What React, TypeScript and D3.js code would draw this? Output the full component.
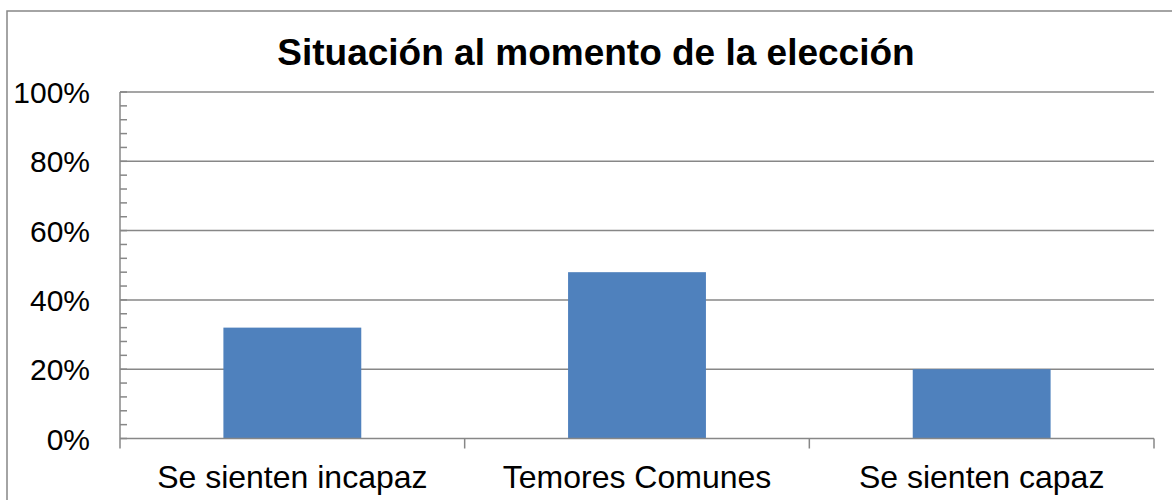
import React, { useRef, useEffect } from "react";
import * as d3 from "d3";

const categories = ["Se sienten incapaz", "Temores Comunes", "Se sienten capaz"];
const values = [0.32, 0.48, 0.2];
const majorTicks = [0, 0.2, 0.4, 0.6, 0.8, 1];
const title = "Situación al momento de la elección";

const App: React.FC = () => {
  const ref = useRef<SVGSVGElement | null>(null);

  useEffect(() => {
    const svg = d3.select(ref.current);
    svg.selectAll("*").remove();

    const width = 1172;
    const height = 500;
    const left = 120;
    const right = 1154;
    const top = 92;
    const bottom = 438.5;
    const font = "'Liberation Sans', Arial, sans-serif";
    const grey = "#878787";

    svg.attr("width", width).attr("height", height);

    // outer chart frame
    svg
      .append("rect")
      .attr("x", 7)
      .attr("y", 11)
      .attr("width", 1300)
      .attr("height", 700)
      .attr("fill", "white")
      .attr("stroke", grey)
      .attr("stroke-width", 1.5);

    svg
      .append("text")
      .attr("x", 596)
      .attr("y", 65)
      .attr("text-anchor", "middle")
      .attr("font-family", font)
      .attr("font-weight", "bold")
      .attr("font-size", 37)
      .text(title);

    const x = d3.scaleBand().domain(categories).range([left, right]).paddingInner(0.6).paddingOuter(0.3);
    const xb = d3.scaleBand().domain(categories).range([left, right]);
    const y = d3.scaleLinear().domain([0, 1]).range([bottom, top]);

    // gridlines
    svg
      .append("g")
      .selectAll("line")
      .data(majorTicks.filter((d) => d > 0))
      .enter()
      .append("line")
      .attr("x1", left)
      .attr("x2", right)
      .attr("y1", (d) => y(d))
      .attr("y2", (d) => y(d))
      .attr("stroke", grey)
      .attr("stroke-width", 1.5);

    // minor ticks
    svg
      .append("g")
      .selectAll("line")
      .data(d3.range(0, 101, 4).map((d) => d / 100))
      .enter()
      .append("line")
      .attr("x1", left)
      .attr("x2", left + 7)
      .attr("y1", (d) => y(d))
      .attr("y2", (d) => y(d))
      .attr("stroke", grey)
      .attr("stroke-width", 1.5);

    // bars
    svg
      .append("g")
      .selectAll("rect")
      .data(values)
      .enter()
      .append("rect")
      .attr("x", (_, i) => x(categories[i]) || 0)
      .attr("y", (d) => y(d))
      .attr("width", x.bandwidth())
      .attr("height", (d) => bottom - y(d))
      .attr("fill", "#4F81BD");

    // y axis line
    svg
      .append("line")
      .attr("x1", left)
      .attr("x2", left)
      .attr("y1", top)
      .attr("y2", bottom + 10)
      .attr("stroke", grey)
      .attr("stroke-width", 1.5);

    // x axis line + category separators
    svg
      .append("line")
      .attr("x1", left)
      .attr("x2", right)
      .attr("y1", bottom)
      .attr("y2", bottom)
      .attr("stroke", grey)
      .attr("stroke-width", 1.5);

    svg
      .append("g")
      .selectAll("line")
      .data(categories.slice(1).map((c) => xb(c) || 0).concat([right]))
      .enter()
      .append("line")
      .attr("x1", (d) => d)
      .attr("x2", (d) => d)
      .attr("y1", bottom)
      .attr("y2", bottom + 10)
      .attr("stroke", grey)
      .attr("stroke-width", 1.5);

    // y labels
    svg
      .append("g")
      .selectAll("text")
      .data(majorTicks)
      .enter()
      .append("text")
      .attr("x", 90)
      .attr("y", (d) => y(d) + 11)
      .attr("text-anchor", "end")
      .attr("font-family", font)
      .attr("font-size", 30)
      .text((d) => d3.format(".0%")(d));

    // x labels
    svg
      .append("g")
      .selectAll("text")
      .data(categories)
      .enter()
      .append("text")
      .attr("x", (d) => (xb(d) || 0) + xb.bandwidth() / 2)
      .attr("y", 488)
      .attr("text-anchor", "middle")
      .attr("font-family", font)
      .attr("font-size", 32)
      .text((d) => d);
  }, []);

  return <svg ref={ref} style={{ position: "absolute", left: 0, top: 0 }}></svg>;
};

export default App;
